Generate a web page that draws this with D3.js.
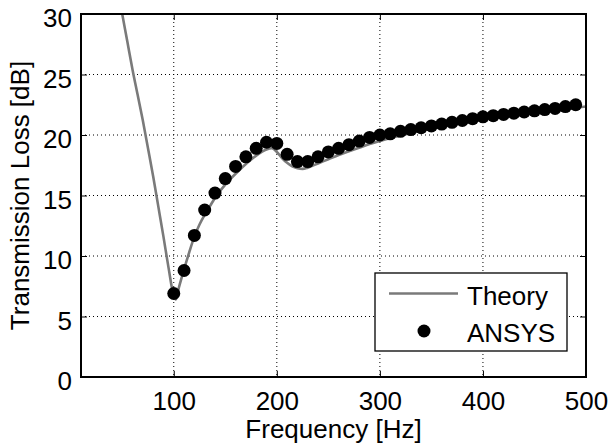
<!DOCTYPE html>
<html><head><meta charset="utf-8">
<script src="https://cdn.jsdelivr.net/npm/d3@7"></script>
<style>
html,body{margin:0;padding:0;background:#fff;}
svg{display:block;font-family:"Liberation Sans",Arial,Helvetica,sans-serif;}
</style></head>
<body>
<svg id="chart" width="609" height="448"></svg>
<script>
// Data
const theoryFreq = [50,55,60,65,70,75,80,85,90,95,100,102,105,110,115,120,125,130,135,140,150,160,170,180,190,195,200,205,210,215,220,225,230,240,250,260,270,280,290,300,320,340,360,380,400,420,440,460,480,500];
const theoryTL   = [30.0,27.7,25.4,23.3,21.2,18.9,16.6,14.1,11.6,9.0,6.7,6.4,7.4,8.9,10.3,11.6,12.6,13.4,14.1,14.8,15.9,16.8,17.6,18.3,18.8,18.9,18.6,18.1,17.7,17.4,17.25,17.2,17.3,17.65,18.0,18.35,18.65,18.95,19.25,19.5,19.95,20.35,20.7,21.0,21.3,21.55,21.75,21.95,22.15,22.35];
const ansysFreq = [100,110,120,130,140,150,160,170,180,190,200,210,220,230,240,250,260,270,280,290,300,310,320,330,340,350,360,370,380,390,400,410,420,430,440,450,460,470,480,490];
const ansysTL   = [6.9,8.8,11.7,13.8,15.2,16.4,17.4,18.2,18.9,19.4,19.3,18.4,17.8,17.8,18.2,18.6,18.9,19.2,19.5,19.8,20.0,20.1,20.3,20.45,20.6,20.75,20.9,21.05,21.2,21.35,21.5,21.6,21.7,21.8,21.9,22.0,22.1,22.2,22.35,22.5];
const xTicks = [100,200,300,400,500];
const yTicks = [0,5,10,15,20,25,30];
const xLabel = "Frequency [Hz]";
const yLabel = "Transmission Loss [dB]";
const legendLabels = ["Theory","ANSYS"];

const svg = d3.select("#chart");
const L = 81, R = 586, T = 14, B = 377;
const x = d3.scaleLinear().domain([10,500]).range([L,R]);
const y = d3.scaleLinear().domain([0,30]).range([B,T]);
const fs = 26;

// grid
const grid = svg.append("g").attr("stroke","#000").attr("stroke-width",1).attr("stroke-dasharray","1,3");
xTicks.filter(v=>v<500).forEach(v=>{
  grid.append("line").attr("x1",x(v)).attr("x2",x(v)).attr("y1",T).attr("y2",B);
});
yTicks.filter(v=>v>0 && v<30).forEach(v=>{
  grid.append("line").attr("x1",L).attr("x2",R).attr("y1",y(v)).attr("y2",y(v));
});

// clip
svg.append("clipPath").attr("id","clip").append("rect").attr("x",L).attr("y",T).attr("width",R-L).attr("height",B-T);

// theory line
const theory = theoryFreq.map((f,i)=>[f,theoryTL[i]]);
svg.append("path").datum(theory)
  .attr("clip-path","url(#clip)")
  .attr("fill","none").attr("stroke","#7a7a7a").attr("stroke-width",2.6)
  .attr("d", d3.line().x(d=>x(d[0])).y(d=>y(d[1])).curve(d3.curveMonotoneX));

// ansys dots
svg.append("g").selectAll("circle").data(ansysFreq.map((f,i)=>[f,ansysTL[i]]))
  .join("circle").attr("cx",d=>x(d[0])).attr("cy",d=>y(d[1])).attr("r",6.5).attr("fill","#000");

// axes frame
const xAxisB = d3.axisBottom(x).tickValues(xTicks).tickSizeInner(-6).tickSizeOuter(0).tickPadding(12);
const yAxisL = d3.axisLeft(y).tickValues(yTicks).tickSizeInner(-6).tickSizeOuter(0).tickPadding(10);
const gx = svg.append("g").attr("transform",`translate(0,${B})`).call(xAxisB);
const gy = svg.append("g").attr("transform",`translate(${L},0)`).call(yAxisL);
const gxt = svg.append("g").attr("transform",`translate(0,${T})`).call(d3.axisTop(x).tickValues(xTicks).tickSizeInner(-6).tickSizeOuter(0).tickFormat(""));
const gyr = svg.append("g").attr("transform",`translate(${R},0)`).call(d3.axisRight(y).tickValues(yTicks).tickSizeInner(-6).tickSizeOuter(0).tickFormat(""));
[gx,gy,gxt,gyr].forEach(g=>{
  g.select(".domain").remove();
  g.selectAll(".tick line").attr("stroke","#000").attr("stroke-width",1);
});
gx.selectAll("text").attr("font-size",fs).attr("fill","#000").attr("font-family","Liberation Sans, Arial, sans-serif").attr("dy",null).attr("y",33).attr("dominant-baseline","auto");
gy.selectAll("text").attr("font-size",fs).attr("fill","#000").attr("font-family","Liberation Sans, Arial, sans-serif").attr("x",-9).attr("dy",12.5);

svg.append("rect").attr("x",L).attr("y",T).attr("width",R-L).attr("height",B-T)
  .attr("fill","none").attr("stroke","#000").attr("stroke-width",2);

// axis labels
svg.append("text").attr("x",(L+R)/2).attr("y",438).attr("text-anchor","middle")
  .attr("font-size",fs).attr("fill","#000").text(xLabel);
svg.append("text").attr("transform",`translate(29,${(T+B)/2}) rotate(-90)`).attr("text-anchor","middle")
  .attr("font-size",fs).attr("fill","#000").text(yLabel);

// legend
const lg = svg.append("g");
lg.append("rect").attr("x",375).attr("y",273).attr("width",192).attr("height",78)
  .attr("fill","#fff").attr("stroke","#000").attr("stroke-width",1.3);
lg.append("line").attr("x1",389).attr("x2",458).attr("y1",293.5).attr("y2",293.5)
  .attr("stroke","#7a7a7a").attr("stroke-width",2.6);
lg.append("circle").attr("cx",424).attr("cy",331).attr("r",6.5).attr("fill","#000");
lg.append("text").attr("x",467).attr("y",305).attr("font-size",fs).attr("fill","#000").text(legendLabels[0]);
lg.append("text").attr("x",467).attr("y",342).attr("font-size",fs).attr("fill","#000").text(legendLabels[1]);
</script>
</body></html>
